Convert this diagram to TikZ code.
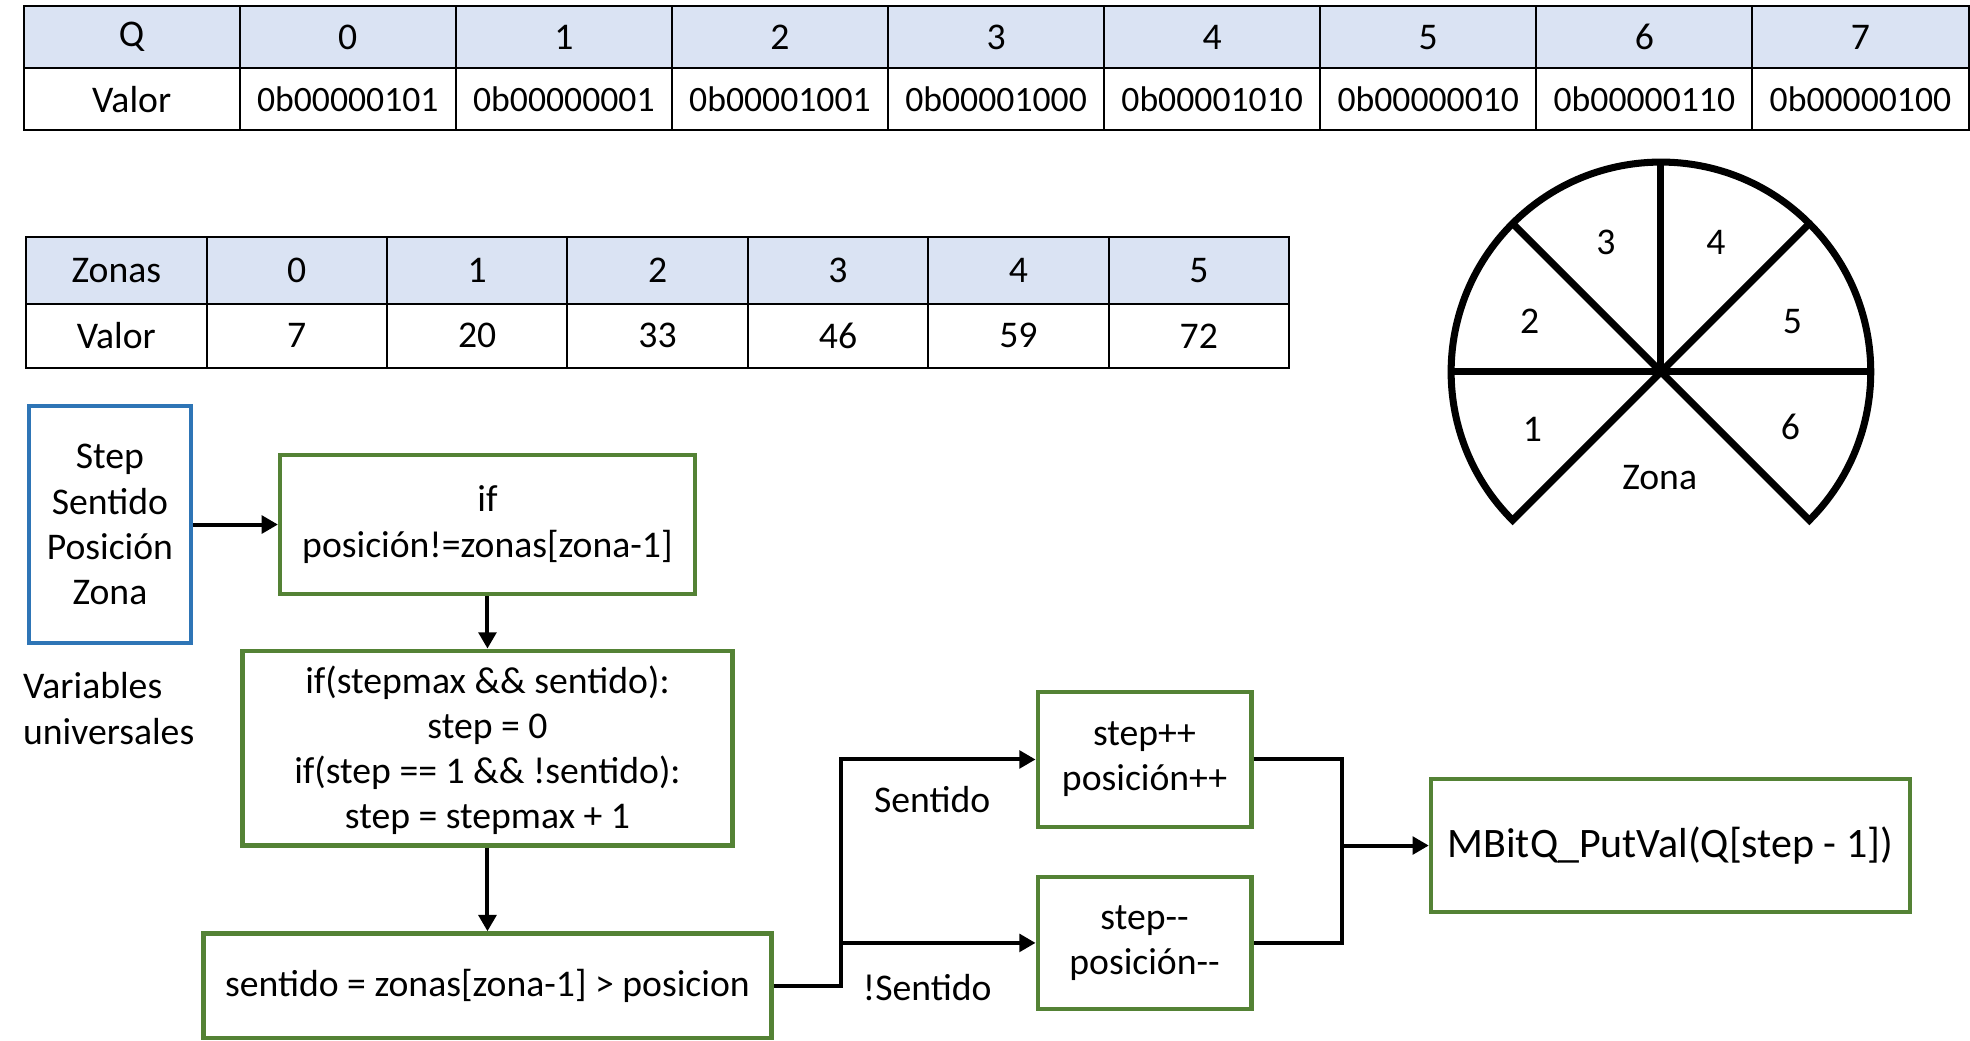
\documentclass[tikz,border=0pt]{standalone}
\usepackage{fontspec}
\setmainfont{Carlito}
\usetikzlibrary{arrows.meta,positioning}
\definecolor{hdrblue}{HTML}{DAE3F3}
\definecolor{boxgreen}{HTML}{548235}
\definecolor{boxblue}{HTML}{2E75B6}
\tikzset{
  cell/.style={draw, line width=0.8pt, inner sep=0pt, anchor=north west},
  hcell/.style={cell, fill=hdrblue},
  vbox/.style={draw=boxblue, line width=1.75pt, align=center, inner sep=0pt},
  gbox/.style={draw=boxgreen, line width=1.75pt, align=center, inner sep=0pt},
  arr/.style={line width=1.6pt, -{Triangle[length=6.5pt,width=7pt]}},
  wire/.style={line width=1.6pt},
  pie/.style={line width=2.8pt, line join=miter}
}
\begin{document}
\begin{tikzpicture}[x=0.5pt, y=0.5pt, font=\fontsize{15}{18}\selectfont]
\useasboundingbox (0,0) rectangle (1568,-828);

\foreach \t [count=\i from 0] in {Q,0,1,2,3,4,5,6,7}
  \node[hcell, minimum width=86pt, minimum height=24.75pt] (qh\i) at (18+172*\i,-4) {\t};
\node[cell, minimum width=86pt, minimum height=24.75pt] (qv0) at (18,-53.5) {Valor};
\foreach \t [count=\i from 1] in {0b00000101,0b00000001,0b00001001,0b00001000,0b00001010,0b00000010,0b00000110,0b00000100}
  \node[cell, minimum width=86pt, minimum height=24.75pt, font=\fontsize{14.2}{18}\selectfont] (qv\i) at (18+172*\i,-53.5) {\t};

\foreach \t [count=\i from 0] in {Zonas,0,1,2,3,4,5}
  \node[hcell, minimum width=71.8pt, minimum height=26.5pt] (zh\i) at (20+143.6*\i,-188) {\t};
\foreach \t [count=\i from 0] in {Valor,7,20,33,46,59,72}
  \node[cell, minimum width=71.8pt, minimum height=25.5pt] (zv\i) at (20+143.6*\i,-241) {\t};

\coordinate (pc) at (1322,-296);
\draw[pie] (pc) -- ++(225:83.5pt) arc[start angle=225, end angle=-45, radius=83.5pt] -- cycle;
\draw[pie] (pc) ++(180:83.5pt) -- ++(0:167pt);
\draw[pie] (pc) -- ++(90:83.5pt);
\draw[pie] (pc) ++(135:83.5pt) -- (pc) -- ++(45:83.5pt);
\path (pc) ++(204:56pt) node (z1) {1};
\path (pc) ++(159:56pt) node (z2) {2};
\path (pc) ++(113:56pt) node (z3) {3};
\path (pc) ++(67:56pt) node (z4) {4};
\path (pc) ++(21:56pt) node (z5) {5};
\path (pc) ++(-23:56pt) node (z6) {6};
\node (zona) at (1321,-380) {Zona};

\node[vbox, minimum width=64.5pt, minimum height=94.5pt] (vars) at (87.5,-417.5) {Step\\Sentido\\Posición\\Zona};
\node[align=left, anchor=west, inner sep=0pt] (univ) at (18,-564) {Variables\\universales};

\node[gbox, minimum width=165pt, minimum height=55.5pt] (if1) at (388,-417.5) {if\\posición!=zonas[zona-1]};
\node[gbox, minimum width=195pt, minimum height=77.5pt] (check) at (388,-595.5) {\strut if(stepmax \&\& sentido):\\step = 0\\if(step == 1 \&\& !sentido):\\step = stepmax + 1};
\node[gbox, minimum width=226pt, minimum height=41.5pt] (sent) at (388,-784.5) {sentido = zonas[zona-1] > posicion\vphantom{[]}};

\node[gbox, minimum width=85pt, minimum height=53.5pt] (inc) at (911,-604.5) {step++\\posición++};
\node[gbox, minimum width=85pt, minimum height=52.5pt] (dec) at (911,-750.5) {step-{}-\\posición-{}-};
\node[gbox, minimum width=190.5pt, minimum height=53pt, font=\fontsize{16.7}{19}\selectfont] (put) at (1329.5,-673) {MBitQ\_PutVal(Q[step - 1])};

\node (lsent) at (742,-636) {Sentido};
\node (lnsent) at (738,-786) {!Sentido};

\draw[arr] (vars) -- (if1);
\draw[arr] (if1) -- (check);
\draw[arr] (check) -- (sent);

\coordinate (split) at (669,-784.5);
\draw[arr] (sent.east) -- (split) |- (inc.west);
\draw[arr] (split |- dec.west) -- (dec.west);

\coordinate (join) at (1068,-673);
\draw[wire] (inc.east) -| (join) |- (dec.east);
\draw[arr] (join) -- (put.west);

\end{tikzpicture}
\end{document}
